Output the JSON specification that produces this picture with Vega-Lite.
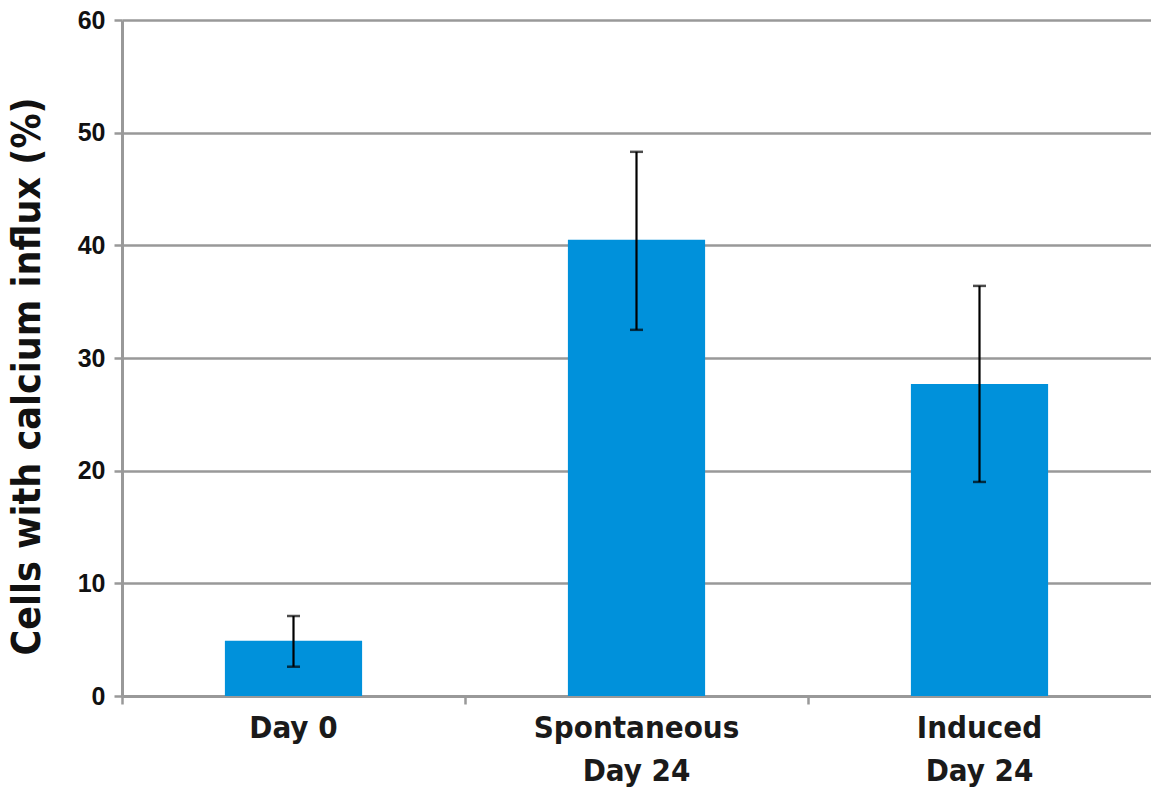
{
  "$schema": "https://vega.github.io/schema/vega-lite/v6.json",
  "width": 1029,
  "height": 676,
  "autosize": "none",
  "padding": {"left": 122, "top": 20, "right": 0, "bottom": 93},
  "background": "white",
  "config": {"view": {"stroke": null}},
  "data": {"values": [
    {"group": "Day 0", "pct": 4.9, "lo": 2.6, "hi": 7.1},
    {"group": "Spontaneous Day 24", "pct": 40.5, "lo": 32.5, "hi": 48.3},
    {"group": "Induced Day 24", "pct": 27.7, "lo": 19.0, "hi": 36.4}
  ]},
  "layer": [
    {
      "mark": {"type": "bar", "color": "#0091DB"},
      "encoding": {
        "x": {
          "field": "group", "type": "nominal", "sort": null,
          "scale": {"paddingInner": 0.6, "paddingOuter": 0.3},
          "axis": {
            "title": null,
            "grid": false,
            "bandPosition": -0.75,
            "labelAngle": 0,
            "labelLimit": 400,
            "labelExpr": "datum.label == 'Day 0' ? 'Day 0' : [split(datum.label, ' ')[0], 'Day 24']",
            "labelFont": "DejaVu Sans Condensed",
            "labelFontWeight": "bold",
            "labelFontSize": 31,
            "labelColor": "#1a1a1a",
            "labelLineHeight": 43,
            "labelPadding": 9,
            "labelBaseline": "top",
            "tickSize": 8,
            "tickColor": "#999999",
            "tickWidth": 2.5,
            "domainColor": "#999999",
            "domainWidth": 3
          }
        },
        "y": {
          "field": "pct", "type": "quantitative",
          "scale": {"domain": [0, 60], "nice": false},
          "axis": {
            "title": "Cells with calcium influx (%)",
            "values": [0, 10, 20, 30, 40, 50, 60],
            "grid": true,
            "gridColor": "#999999",
            "gridWidth": 2.5,
            "tickSize": 8,
            "tickColor": "#999999",
            "tickWidth": 2.5,
            "domainColor": "#999999",
            "domainWidth": 3,
            "labelFont": "Liberation Sans",
            "labelFontWeight": "bold",
            "labelFontSize": 25,
            "labelColor": "#111111",
            "labelPadding": 9,
            "titleFont": "DejaVu Sans Condensed",
            "titleFontWeight": "bold",
            "titleFontSize": 39,
            "titleColor": "#111111",
            "titleAngle": -90,
            "titleX": -83,
            "titleY": 356,
            "titleAlign": "center",
            "titleBaseline": "alphabetic"
          }
        }
      }
    },
    {
      "mark": {
        "type": "errorbar",
        "ticks": {"size": 13, "thickness": 2.5, "color": "#000000"},
        "rule": {"strokeWidth": 2.2, "color": "#000000"}
      },
      "encoding": {
        "x": {"field": "group", "type": "nominal", "sort": null},
        "y": {"field": "lo", "type": "quantitative", "title": "Cells with calcium influx (%)"},
        "y2": {"field": "hi"}
      }
    }
  ]
}
